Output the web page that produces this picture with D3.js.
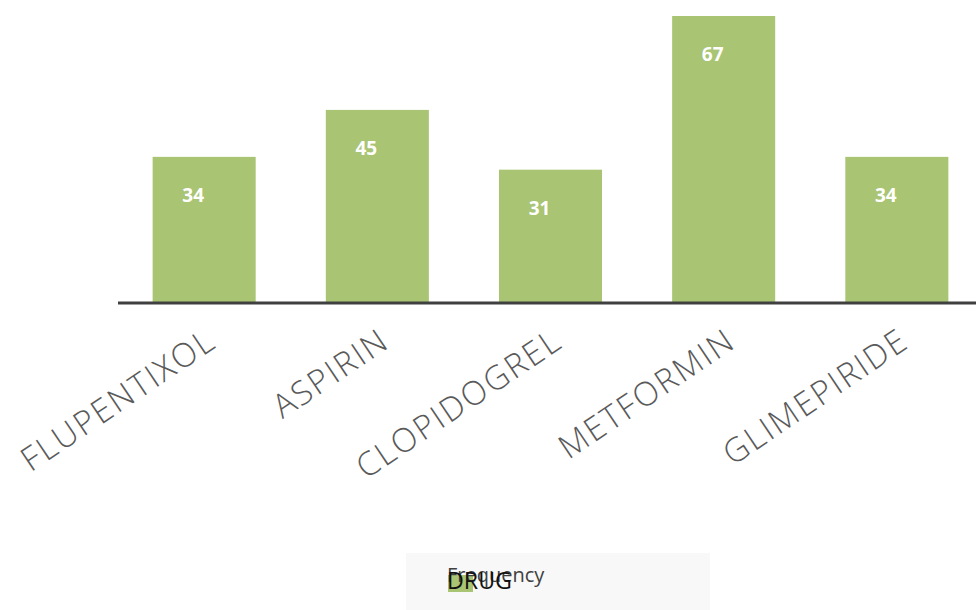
<!DOCTYPE html>
<html>
<head>
<meta charset="utf-8">
<script src="https://cdn.jsdelivr.net/npm/d3@7"></script>
<style>
  html, body { margin: 0; padding: 0; background: #ffffff; }
  svg { display: block; }
</style>
</head>
<body>
<svg id="chart" width="976" height="610"></svg>
<script>
// Drug frequency counts
const drugs = ["FLUPENTIXOL", "ASPIRIN", "CLOPIDOGREL", "METFORMIN", "GLIMEPIRIDE"];
const frequency = [34, 45, 31, 67, 34];
const seriesName = "Frequency";
const legendTitle = "DRUG";

const svg = d3.select("#chart");
const baseY = 302;

const x = d3.scaleBand()
  .domain(drugs)
  .range([118, 983])
  .paddingInner(0.405)
  .paddingOuter(0.2);

const y = d3.scaleLinear()
  .domain([0, 67])
  .range([baseY, 16]);

const barColor = "#a9c472";
const font = "'Open Sans', 'DejaVu Sans', sans-serif";

// Bars
svg.append("g")
  .selectAll("rect")
  .data(drugs)
  .join("rect")
  .attr("x", d => x(d))
  .attr("y", (d, i) => y(frequency[i]))
  .attr("width", x.bandwidth())
  .attr("height", (d, i) => y(0) - y(frequency[i]))
  .attr("fill", barColor);

// Value labels inside the bars
svg.append("g")
  .selectAll("text")
  .data(drugs)
  .join("text")
  .attr("x", d => x(d) + x.bandwidth() / 2 - 11)
  .attr("y", (d, i) => y(frequency[i]) + 45)
  .attr("text-anchor", "middle")
  .attr("fill", "#ffffff")
  .attr("font-family", font)
  .attr("font-weight", 700)
  .attr("font-size", 19)
  .text((d, i) => frequency[i]);

// Category axis
const xAxis = svg.append("g")
  .attr("transform", `translate(0,${baseY + 1})`)
  .call(d3.axisBottom(x).tickSize(0).tickPadding(0));
xAxis.select(".domain")
  .attr("d", "M118,0H976")
  .attr("stroke", "#404040")
  .attr("stroke-width", 3);
xAxis.selectAll(".tick text")
  .attr("text-anchor", "end")
  .attr("dy", 0)
  .attr("fill", "#5a5a5a")
  .attr("font-family", font)
  .attr("font-weight", 300)
  .attr("font-size", 33)
  .attr("letter-spacing", 2)
  .attr("transform", "translate(14,43) rotate(-34)");

// Legend
const legend = svg.append("g");
legend.append("rect")
  .attr("x", 406).attr("y", 553)
  .attr("width", 304).attr("height", 57)
  .attr("fill", "#f8f8f8");
legend.append("rect")
  .attr("x", 448).attr("y", 575)
  .attr("width", 25).attr("height", 17)
  .attr("fill", barColor);
legend.append("text")
  .attr("x", 447).attr("y", 582)
  .attr("fill", "#404040")
  .attr("font-family", font)
  .attr("font-size", 20)
  .text(seriesName);
legend.append("text")
  .attr("x", 447).attr("y", 589)
  .attr("fill", "#111111")
  .attr("font-family", font)
  .attr("font-size", 23)
  .attr("textLength", 65)
  .attr("lengthAdjust", "spacingAndGlyphs")
  .text(legendTitle);
</script>
</body>
</html>
